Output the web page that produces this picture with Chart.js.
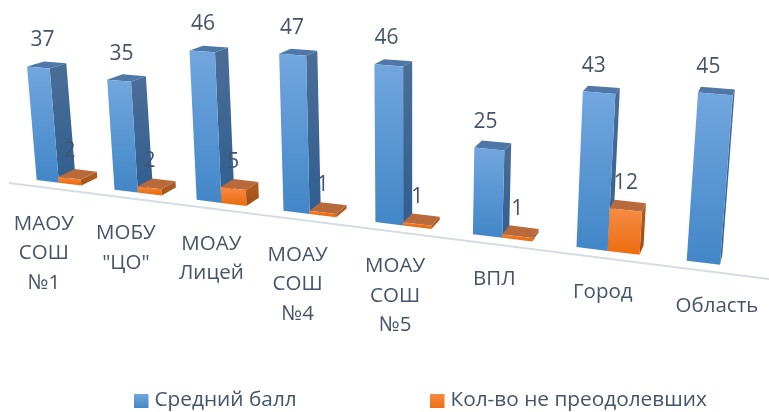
<!DOCTYPE html>
<html>
<head>
<meta charset="utf-8">
<style>
  html, body { margin: 0; background: #fff; }
  canvas { display: block; }
</style>
<script src="https://cdn.jsdelivr.net/npm/chart.js@4/dist/chart.umd.min.js"></script>
</head>
<body>
<canvas id="chart" width="769" height="412"></canvas>
<script>
const categories = [['МАОУ', 'СОШ', '№1'], ['МОБУ', '"ЦО"'], ['МОАУ', 'Лицей'], ['МОАУ', 'СОШ', '№4'], ['МОАУ', 'СОШ', '№5'], 'ВПЛ', 'Город', 'Область'];
const averageScore = [37, 35, 46, 47, 46, 25, 43, 45];
const notPassed = [2, 2, 5, 1, 1, 1, 12, null];

const FONT = '"Open Sans", "Noto Sans", sans-serif';
const TEXT_COLOR = '#44546a';

// where the flat plot's corners land on screen (blue bar 1 and bar 8, value 0 and 45)
const QUAD = [[36.7, 180], [686.7, 260.7], [698, 92.6], [24.9, 41.2]];
const labelNudge = [-15, -12, -10, -12, -8, -8, -5, -3];
const legendSlots = [134, 430];

function makeHomography(q) {
    const [[x0, y0], [x1, y1], [x2, y2], [x3, y3]] = q;
    const dx1 = x1 - x2, dx2 = x3 - x2, sx = x0 - x1 + x2 - x3;
    const dy1 = y1 - y2, dy2 = y3 - y2, sy = y0 - y1 + y2 - y3;
    const den = dx1 * dy2 - dx2 * dy1;
    const g = (sx * dy2 - dx2 * sy) / den;
    const h = (dx1 * sy - sx * dy1) / den;
    const a = x1 - x0 + g * x1, b = x3 - x0 + h * x3;
    const d = y1 - y0 + g * y1, e = y3 - y0 + h * y3;
    return (u, v) => {
        const w = g * u + h * v + 1;
        return [(a * u + b * v + x0) / w, (d * u + e * v + y0) / w];
    };
}
const warp = makeHomography(QUAD);

// extrusion direction, changes across the picture
function depth(p) {
    const dx = 16.6 - 0.0213 * (p[0] - 49);
    const dy = -(5 + 3 * (p[1] - 60) / 130);
    return [p[0] + dx, p[1] + dy];
}

function poly(ctx, pts, fill) {
    ctx.beginPath();
    pts.forEach((p, i) => i ? ctx.lineTo(p[0], p[1]) : ctx.moveTo(p[0], p[1]));
    ctx.closePath();
    ctx.fillStyle = fill;
    ctx.fill();
}

function vGrad(ctx, top, bottom, c1, c2) {
    const g = ctx.createLinearGradient(0, top, 0, bottom);
    g.addColorStop(0, c1);
    g.addColorStop(1, c2);
    return g;
}

const faces = [
    { front: ['#72a6df', '#4387c8'], side: ['#4a6d97', '#2f5f90'], top: '#4f78a8' },
    { front: ['#f58b44', '#ed6f14'], side: ['#ad5a1e', '#a04e12'], top: '#b96a3c' }
];

const bars3d = {
    id: 'bars3d',
    // bars are redrawn in perspective below
    beforeDatasetDraw() { return false; },
    afterDatasetsDraw(chart) {
        const ctx = chart.ctx;
        const yScale = chart.scales.y;
        const m0 = chart.getDatasetMeta(0).data;
        const left0 = m0[0].x - m0[0].width / 2;
        const left7 = m0[7].x - m0[7].width / 2;
        const base = yScale.getPixelForValue(0);
        const top45 = yScale.getPixelForValue(45);
        const project = (x, y) => warp((x - left0) / (left7 - left0), (base - y) / (base - top45));

        // axis line
        const yAxis = yScale.getPixelForValue(-2.2);
        const step = m0[1].x - m0[0].x;
        const a = project(left0 - step * 0.38, yAxis), b = project(left7 + step * 0.9, yAxis);
        ctx.save();
        ctx.strokeStyle = '#d6dce5';
        ctx.lineWidth = 2;
        ctx.beginPath();
        ctx.moveTo(a[0], a[1]);
        ctx.lineTo(b[0], b[1]);
        ctx.stroke();

        const labels = [];
        categories.forEach((cat, i) => {
            [0, 1].forEach(ds => {
                const el = chart.getDatasetMeta(ds).data[i];
                const value = chart.data.datasets[ds].data[i];
                if (value === null) return;
                const l = el.x - el.width / 2, r = el.x + el.width / 2;
                const bl = project(l, el.base), br = project(r, el.base);
                const tl = project(l, el.y), tr = project(r, el.y);
                const f = faces[ds];
                poly(ctx, [br, tr, depth(tr), depth(br)], vGrad(ctx, tr[1], br[1], f.side[0], f.side[1]));
                poly(ctx, [tl, tr, depth(tr), depth(tl)], f.top);
                poly(ctx, [bl, tl, tr, br], vGrad(ctx, tl[1], bl[1], f.front[0], f.front[1]));
                const nudge = ds === 0 ? 4 - 11 * i / 7 : 0;
                labels.push([String(value), (tl[0] + tr[0]) / 2 + nudge, (tl[1] + tr[1]) / 2 - 27]);
            });
        });

        // value labels sit on top of everything
        ctx.fillStyle = TEXT_COLOR;
        ctx.textAlign = 'center';
        ctx.textBaseline = 'middle';
        ctx.font = '21px ' + FONT;
        labels.forEach(t => ctx.fillText(t[0], t[1], t[2]));

        // category labels follow the sloped axis
        const xScale = chart.scales.x;
        ctx.font = '20.5px ' + FONT;
        categories.forEach((cat, i) => {
            const p = project(xScale.getPixelForValue(i), base);
            const lines = [].concat(cat);
            lines.forEach((line, n) => ctx.fillText(line, p[0] + labelNudge[i], p[1] + 41 + n * 29.5));
        });

        // legend: the wide gap between the two entries doesn't fit the built-in one
        chart.data.datasets.forEach((ds, i) => {
            const x = legendSlots[i];
            ctx.fillStyle = ds.backgroundColor;
            ctx.fillRect(x, 394, 14.5, 14);
            ctx.fillStyle = TEXT_COLOR;
            ctx.textAlign = 'left';
            ctx.font = '20.8px ' + FONT;
            ctx.fillText(ds.label, x + 20.5, 400.5);
        });
        ctx.restore();
    }
};

const gradCtx = document.createElement('canvas').getContext('2d');

new Chart(document.getElementById('chart'), {
    type: 'bar',
    data: {
        labels: categories,
        datasets: [
            { label: 'Средний балл', data: averageScore, backgroundColor: vGrad(gradCtx, 394, 408, '#72a6df', '#4387c8') },
            { label: 'Кол-во не преодолевших', data: notPassed, backgroundColor: vGrad(gradCtx, 394, 408, '#f58b44', '#ed6f14') }
        ]
    },
    options: {
        responsive: false,
        animation: false,
        categoryPercentage: 0.58,
        barPercentage: 1,
        scales: {
            x: { display: false, grid: { display: false } },
            y: { display: false, min: 0, max: 50 }
        },
        plugins: {
            tooltip: { enabled: false },
            legend: { display: false }
        }
    },
    plugins: [bars3d]
});
</script>
</body>
</html>
